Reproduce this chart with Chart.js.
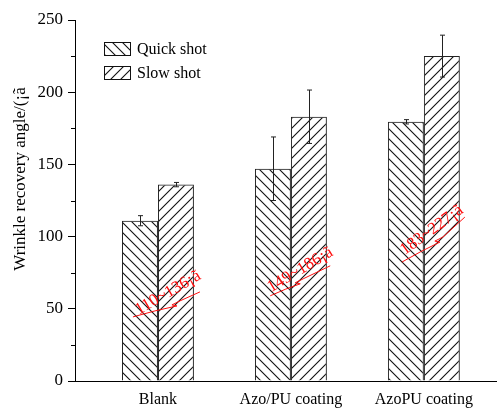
<!DOCTYPE html>
<html>
<head>
<meta charset="utf-8">
<script src="https://cdn.jsdelivr.net/npm/chart.js@4"></script>
<style>
  html, body { margin: 0; padding: 0; background: #fff; }
</style>
</head>
<body>
<canvas id="chart" width="497" height="408"></canvas>
<script>
const categories = ["Blank", "Azo/PU coating", "AzoPU coating"];
const seriesNames = ["Quick shot", "Slow shot"];
const quickShot = [111, 147, 179.5];
const slowShot = [136, 183, 225];
const quickErr = [3.5, 22, 1.5];
const slowErr = [1.5, 18.5, 14.5];
const rangeLabels = ["110~136\u00a1\u00e3", "149~186\u00a1\u00e3", "183~227\u00a1\u00e3"];
const yTitle = "Wrinkle recovery angle/(\u00a1\u00e3";

const FONT = '"Liberation Serif", "Times New Roman", serif';

// diagonal hatch, 'back' = \\\ , 'fwd' = ///
function hatch(dir) {
    let s = 10;
    let c = document.createElement("canvas");
    c.width = s; c.height = s;
    let g = c.getContext("2d");
    g.strokeStyle = "#111";
    g.lineWidth = 1.1;
    g.beginPath();
    if (dir === "back") {
        g.moveTo(-1, -1); g.lineTo(s + 1, s + 1);
        g.moveTo(-2, s - 2); g.lineTo(2, s + 2);
        g.moveTo(s - 2, -2); g.lineTo(s + 2, 2);
    } else {
        g.moveTo(-1, s + 1); g.lineTo(s + 1, -1);
        g.moveTo(-2, 2); g.lineTo(2, -2);
        g.moveTo(s - 2, s + 2); g.lineTo(s + 2, s - 2);
    }
    g.stroke();
    return g.createPattern(c, "repeat");
}
let quickFill = hatch("back");
let slowFill = hatch("fwd");

// annotation placement (data coords of text centre) and hand-drawn arrow offsets in px
const notes = [
    { x: 1.075, y: 61, angle: -30, path: [[-35, 24], [9, 13], [32, -1]] },
    { x: 2.07, y: 77, angle: -31, path: [[-30, 26], [0, 14], [30, -4]] },
    { x: 3.06, y: 104.5, angle: -36, path: [[-30, 32], [8, 12], [33, -13]] }
];

const extras = {
    id: "extras",
    afterDatasetsDraw(chart) {
        let ctx = chart.ctx;
        let yScale = chart.scales.y;
        let errs = [quickErr, slowErr];
        ctx.save();
        ctx.strokeStyle = "#222";
        ctx.lineWidth = 1;
        chart.data.datasets.forEach((ds, di) => {
            chart.getDatasetMeta(di).data.forEach((bar, i) => {
                let v = ds.data[i].y, e = errs[di][i];
                let x = Math.round(bar.x) + 0.5;
                let top = yScale.getPixelForValue(v + e);
                let bot = yScale.getPixelForValue(v - e);
                ctx.beginPath();
                ctx.moveTo(x, top); ctx.lineTo(x, bot);
                ctx.moveTo(x - 2.5, top); ctx.lineTo(x + 2.5, top);
                ctx.moveTo(x - 2.5, bot); ctx.lineTo(x + 2.5, bot);
                ctx.stroke();
            });
        });
        ctx.restore();
    },
    afterDraw(chart) {
        let ctx = chart.ctx;
        let x = chart.scales.x, y = chart.scales.y;
        ctx.save();

        // minor ticks on y
        ctx.strokeStyle = "#000";
        ctx.lineWidth = 1;
        ctx.beginPath();
        for (let v = 25; v < 250; v += 50) {
            let py = Math.round(y.getPixelForValue(v)) + 0.5;
            ctx.moveTo(y.right - 4, py); ctx.lineTo(y.right, py);
        }
        ctx.stroke();

        // y title
        ctx.fillStyle = "#000";
        ctx.font = "17px " + FONT;
        ctx.textAlign = "center";
        ctx.textBaseline = "middle";
        ctx.translate(21, 179);
        ctx.rotate(-Math.PI / 2);
        ctx.fillText(yTitle, 0, 0);
        ctx.setTransform(1, 0, 0, 1, 0, 0);

        // legend
        let fills = [quickFill, slowFill];
        ctx.font = "16px " + FONT;
        ctx.textAlign = "left";
        seriesNames.forEach((name, i) => {
            let by = 42 + i * 24;
            ctx.fillStyle = "#fff";
            ctx.fillRect(104, by, 27, 14);
            ctx.fillStyle = fills[i];
            ctx.fillRect(104, by, 27, 14);
            ctx.strokeStyle = "#111";
            ctx.strokeRect(104.5, by + 0.5, 26, 13);
            ctx.fillStyle = "#000";
            ctx.fillText(name, 137, by + 7.5);
        });

        // red range annotations
        ctx.strokeStyle = "#ff1010";
        ctx.fillStyle = "#ff1010";
        ctx.font = "17px " + FONT;
        ctx.textAlign = "center";
        notes.forEach((n, i) => {
            let cx = x.getPixelForValue(n.x), cy = y.getPixelForValue(n.y);
            let [s, h, e] = n.path;
            ctx.beginPath();
            ctx.moveTo(cx + s[0], cy + s[1]);
            ctx.quadraticCurveTo(cx + (s[0] + h[0]) / 2, cy + (s[1] + h[1]) / 2 - 1, cx + h[0], cy + h[1]);
            ctx.lineTo(cx + h[0] - 5, cy + h[1] - 1);
            ctx.lineTo(cx + h[0] + 3, cy + h[1] - 5);
            ctx.lineTo(cx + e[0], cy + e[1]);
            ctx.stroke();
            ctx.save();
            ctx.translate(cx, cy);
            ctx.rotate(n.angle * Math.PI / 180);
            ctx.fillText(rangeLabels[i], 0, 0);
            ctx.restore();
        });
        ctx.restore();
    }
};

new Chart(document.getElementById("chart"), {
    type: "bar",
    data: {
        datasets: [{
            label: seriesNames[0],
            data: quickShot.map((v, i) => ({ x: i + 1, y: v })),
            backgroundColor: quickFill,
            borderColor: "#222",
            borderWidth: 1
        }, {
            label: seriesNames[1],
            data: slowShot.map((v, i) => ({ x: i + 1, y: v })),
            backgroundColor: slowFill,
            borderColor: "#222",
            borderWidth: 1
        }]
    },
    options: {
        responsive: false,
        animation: false,
        devicePixelRatio: 1,
        categoryPercentage: 0.541,
        barPercentage: 1,
        layout: { padding: { top: 20, right: 0, bottom: 0, left: 0 } },
        plugins: { legend: { display: false }, tooltip: { enabled: false } },
        scales: {
            x: {
                type: "linear",
                offset: false,
                min: 0.376,
                max: 3.55,
                afterBuildTicks: scale => { scale.ticks = categories.map((c, i) => ({ value: i + 1 })); },
                afterFit: scale => { scale.height = 27; },
                grid: { display: false, drawTicks: false, offset: false },
                border: { display: true, color: "#000", width: 1 },
                ticks: {
                    padding: 9,
                    color: "#000",
                    font: { family: FONT, size: 16 },
                    callback: v => categories[v - 1]
                }
            },
            y: {
                min: 0,
                max: 250,
                afterFit: scale => { scale.width = 75; },
                grid: { drawOnChartArea: false, drawTicks: true, tickLength: 7, tickColor: "#000" },
                border: { display: true, color: "#000", width: 1 },
                ticks: {
                    stepSize: 50,
                    padding: 5,
                    color: "#000",
                    font: { family: FONT, size: 17 }
                }
            }
        }
    },
    plugins: [extras]
});
</script>
</body>
</html>
